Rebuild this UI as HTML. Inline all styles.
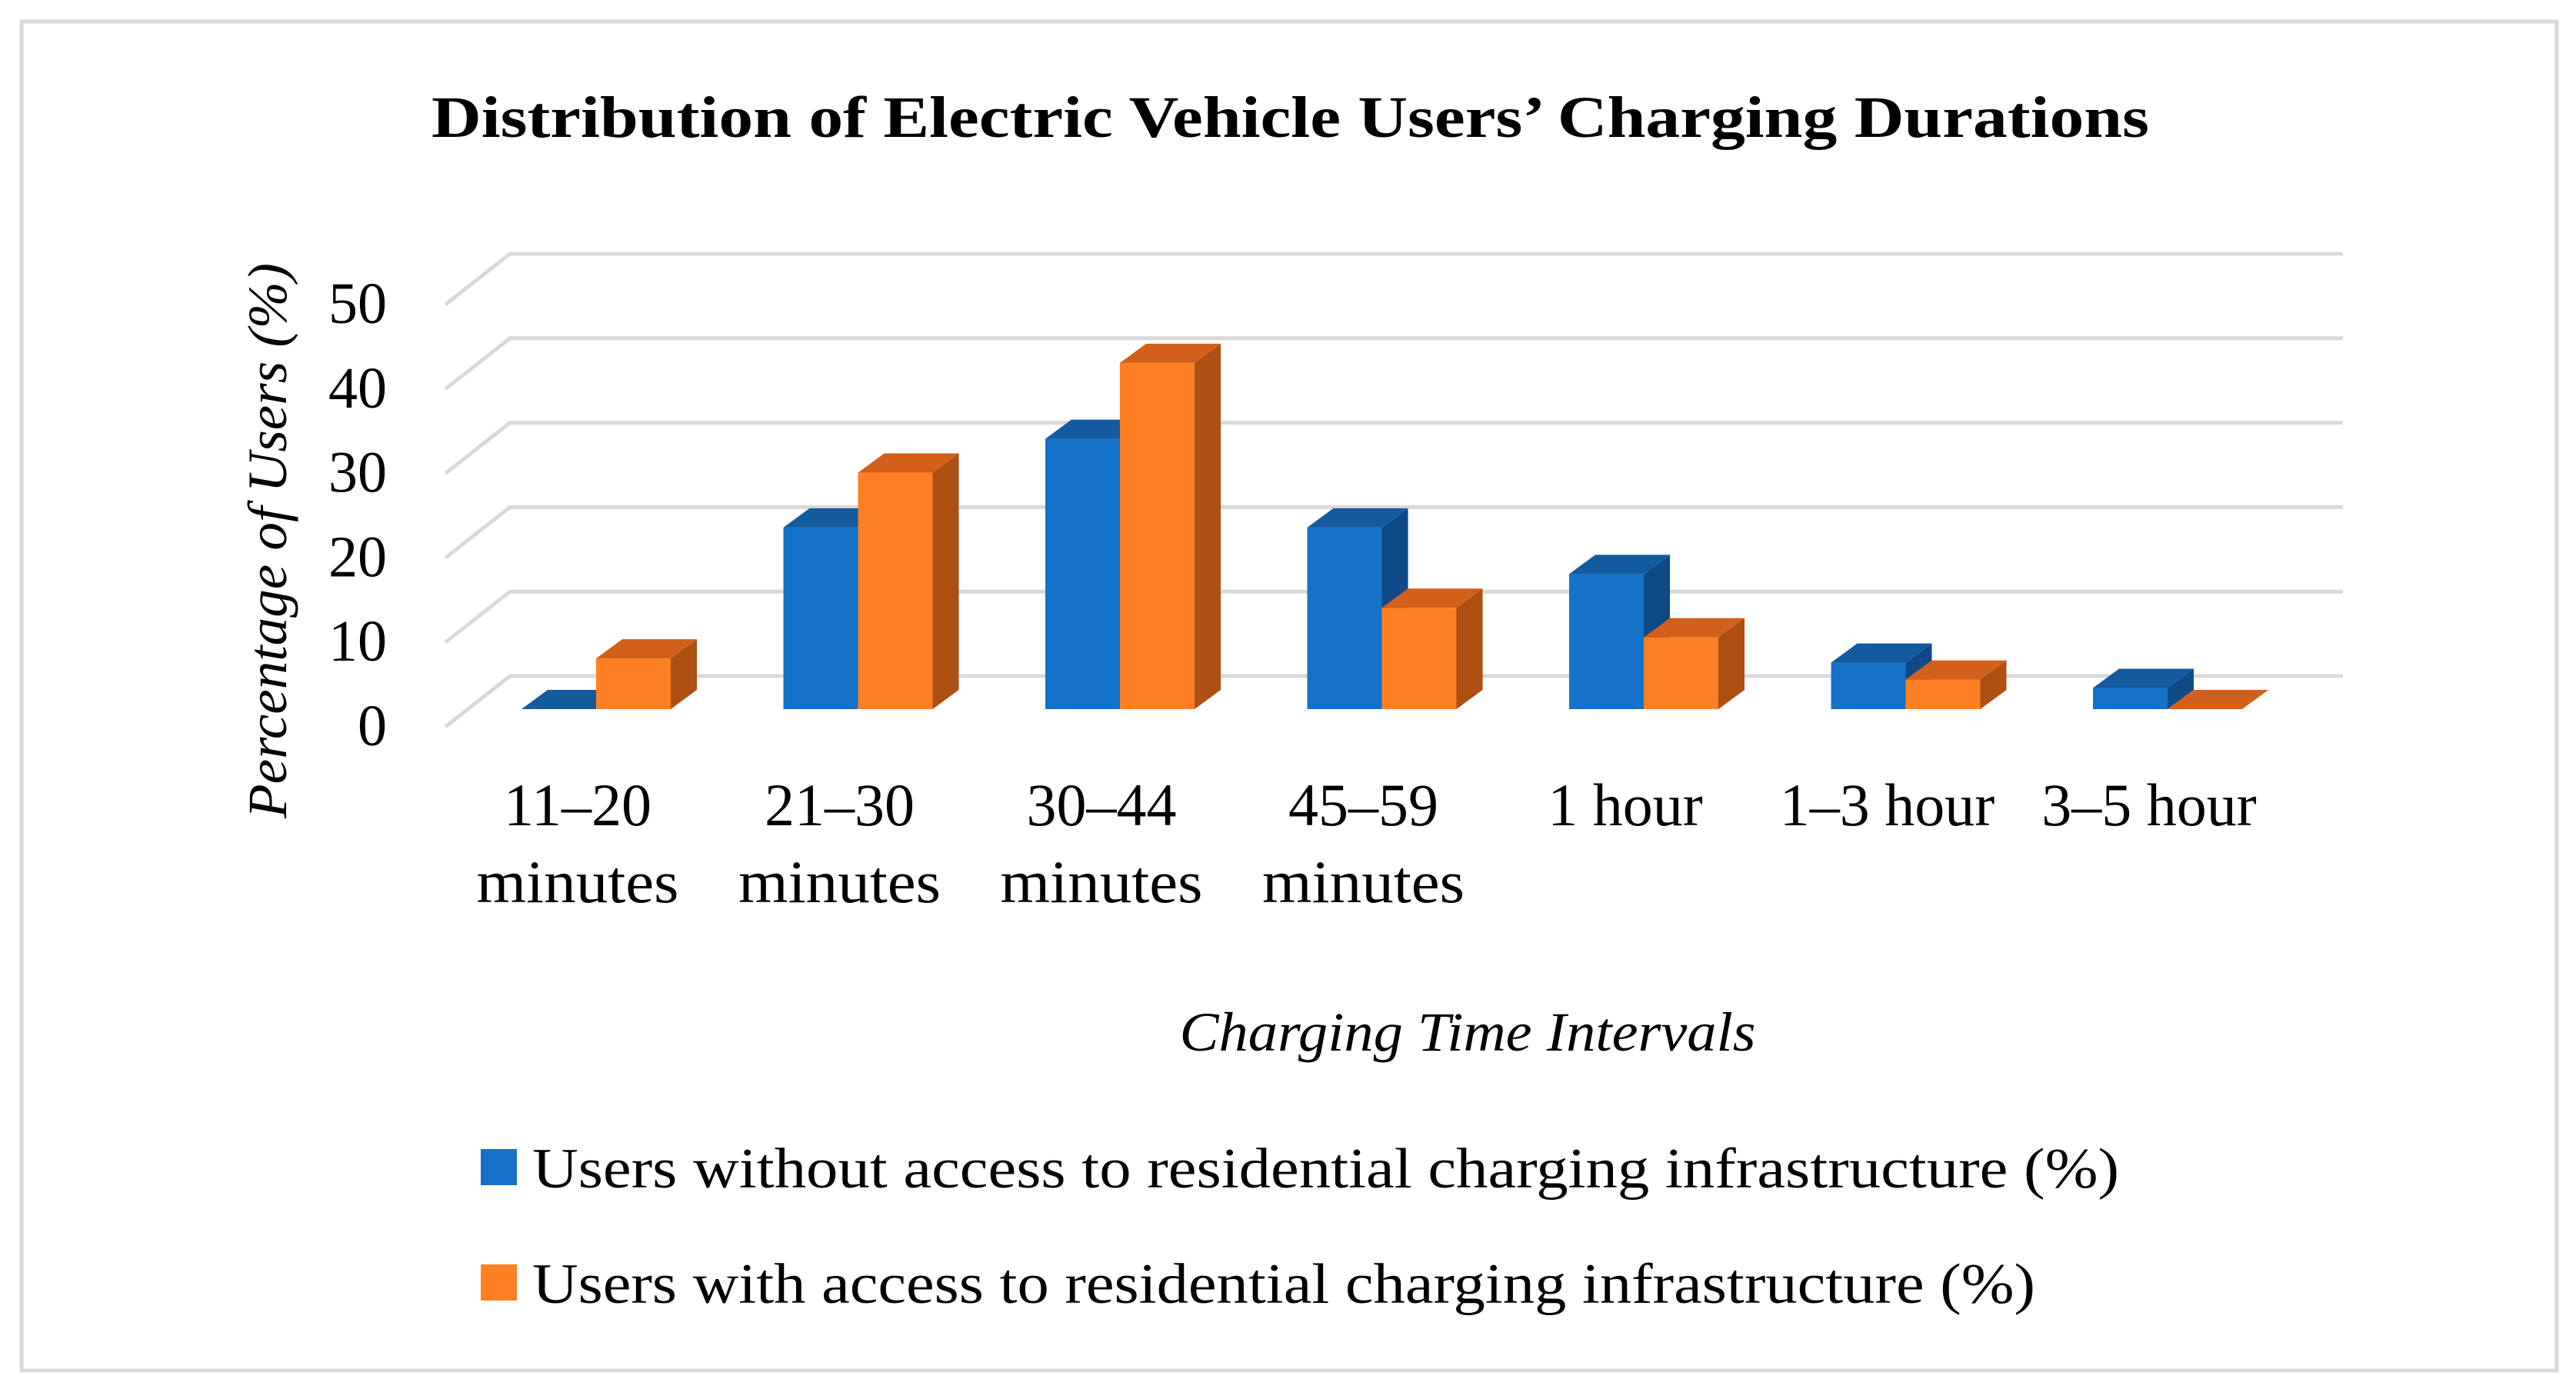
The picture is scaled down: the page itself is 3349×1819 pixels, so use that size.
<!DOCTYPE html>
<html><head><meta charset="utf-8"><style>
html,body{margin:0;padding:0;background:#fff}
svg{display:block}
text{font-family:"Liberation Serif",serif;fill:#000}
</style></head><body>
<svg id="chart" width="3349" height="1819" viewBox="0 0 3349 1819" xmlns="http://www.w3.org/2000/svg">
<rect x="28" y="28" width="3296" height="1754" fill="#fff" stroke="#d9d9d9" stroke-width="5"/>
<text x="561" y="178" font-size="76" font-weight="bold" textLength="2233" lengthAdjust="spacingAndGlyphs">Distribution of Electric Vehicle Users’ Charging Durations</text>
<g id="grid"></g>
<g id="yticks"></g>
<g id="bars"></g>
<g id="xlabels"></g>
<text transform="translate(372,703) rotate(-90)" text-anchor="middle" font-size="72" font-style="italic" textLength="722" lengthAdjust="spacingAndGlyphs">Percentage of Users (%)</text>
<text x="1908" y="1366" text-anchor="middle" font-size="72" font-style="italic" textLength="749" lengthAdjust="spacingAndGlyphs">Charging Time Intervals</text>
<g>
<g>
<rect x="625" y="1494" width="47" height="47" fill="#1672c8"/>
<text x="692" y="1544" font-size="74" textLength="2063" lengthAdjust="spacingAndGlyphs">Users without access to residential charging infrastructure (%)</text>
</g>
<g>
<rect x="625" y="1644" width="47" height="47" fill="#ff7f24"/>
<text x="692" y="1694" font-size="74" textLength="1954" lengthAdjust="spacingAndGlyphs">Users with access to residential charging infrastructure (%)</text>
</g>
</g>
</svg>
<script>
const categoriesLine1 = ["11–20","21–30","30–44","45–59","1 hour","1–3 hour","3–5 hour"];
const categoriesLine2 = ["minutes","minutes","minutes","minutes","","",""];
const withoutAccess = [0,21.5,32,21.5,16,5.5,2.5];
const withAccess = [6,28,41,12,8.5,3.5,0];
const yTicks = [0,10,20,30,40,50];

const NS="http://www.w3.org/2000/svg";
const baseY=922, perUnit=10.98, catStart=678, catStep=340.5, barW=97, dx=34, dy=-25;
const gridBackX0=663, gridBackX1=3046, gridBackY0=879, gridStep=109.8, frontDx=-84, frontDy=66;
function y(v){return baseY - v*perUnit;}
function xCat(i){return catStart + i*catStep;}
function mk(tag,attrs,parent){const e=document.createElementNS(NS,tag);for(const k in attrs)e.setAttribute(k,attrs[k]);parent.appendChild(e);return e;}

const grid=document.getElementById('grid');
const yt=document.getElementById('yticks');
yTicks.forEach(t=>{
  const by=gridBackY0 - t*gridStep/10;
  const p=mk('polyline',{points:`${gridBackX0+frontDx},${by+frontDy} ${gridBackX0},${by} ${gridBackX1},${by}`,fill:'none',stroke:'#d9d9d9','stroke-width':5},grid);
  
  
  const tx=mk('text',{x:503,y:by+frontDy+24,'text-anchor':'end','font-size':76},yt);
  tx.textContent=t;
  
  
});

const bars=document.getElementById('bars');
function bar(x,v,front,top,side,name){
  const g=mk('g',{},bars);
  
  
  const yt=y(v);
  if(v>0){
    mk('rect',{x:x,y:yt,width:barW,height:baseY-yt,fill:front},g);
    mk('polygon',{points:`${x+barW},${yt} ${x+barW+dx},${yt+dy} ${x+barW+dx},${baseY+dy} ${x+barW},${baseY}`,fill:side},g);
  }
  mk('polygon',{points:`${x},${yt} ${x+dx},${yt+dy} ${x+barW+dx},${yt+dy} ${x+barW},${yt}`,fill:top},g);
}
const xl=document.getElementById('xlabels');
categoriesLine1.forEach((c,i)=>{
  const x=xCat(i);
  bar(x,withoutAccess[i],'#1672c8','#135a9e','#0f4a86','bar-without-'+i);
  bar(x+barW,withAccess[i],'#ff7f24','#d2601a','#ae4f14','bar-with-'+i);
  const cx=x+barW-24;
  const t1=mk('text',{x:cx,y:1073,'text-anchor':'middle','font-size':78},xl);
  t1.textContent=c;
  
  
  if(categoriesLine2[i]){
    const t2=mk('text',{x:cx,y:1173,'text-anchor':'middle','font-size':78,textLength:263,lengthAdjust:'spacingAndGlyphs'},xl);
    t2.textContent=categoriesLine2[i];
    
    
  }
});
</script>
</body></html>
